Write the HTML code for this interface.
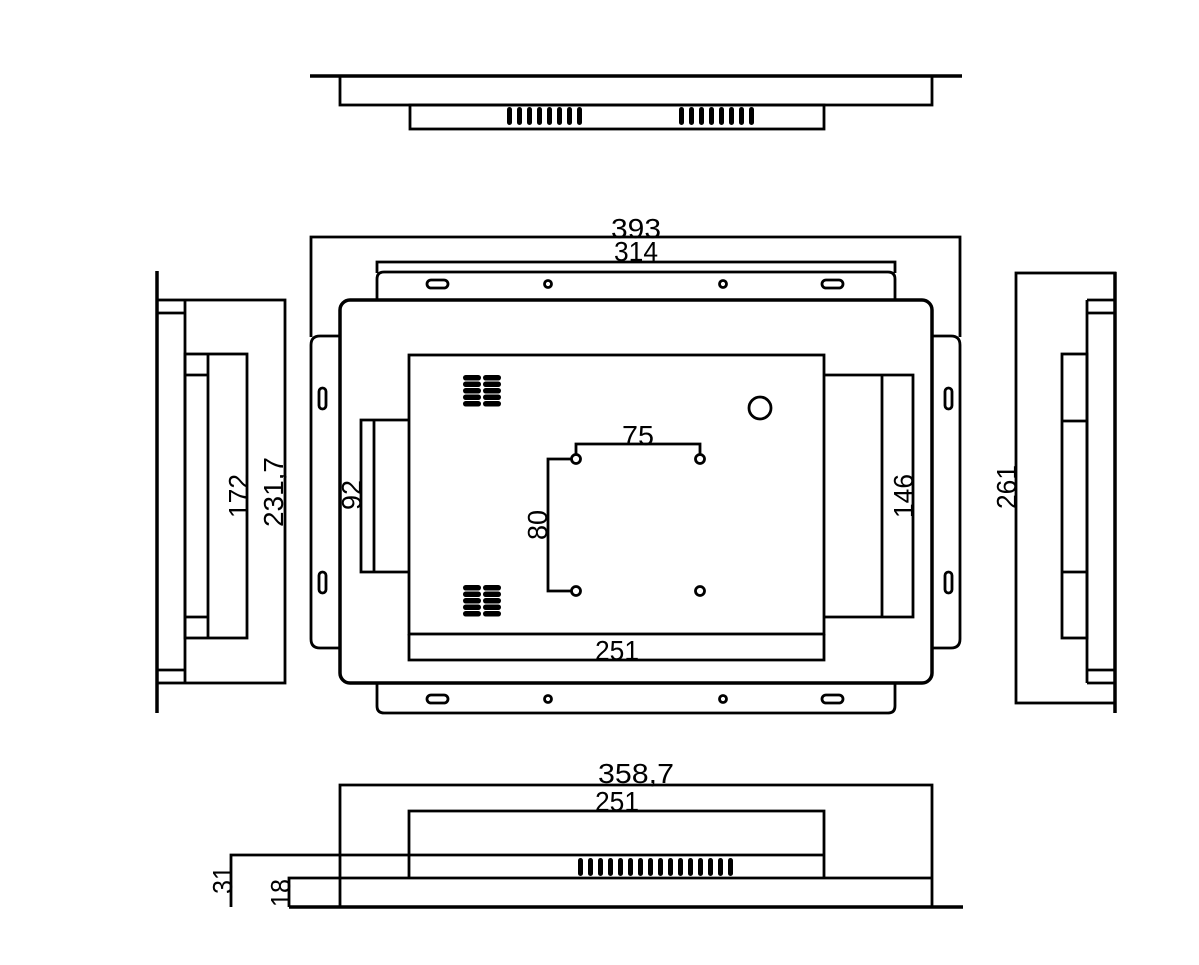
<!DOCTYPE html>
<html><head><meta charset="utf-8"><style>
html,body{margin:0;padding:0;background:#fff;}
svg{display:block;}
text{font-family:"Liberation Sans",sans-serif;font-size:28px;fill:#000;}
</style></head><body>
<svg width="1199" height="965" viewBox="0 0 1199 965" xmlns="http://www.w3.org/2000/svg">
<g fill="none" stroke="#000" stroke-width="2.8">
<line x1="310" y1="76" x2="962" y2="76" stroke-width="3.5"/>
<rect x="340" y="76" width="592" height="29"/>
<rect x="410" y="105" width="414" height="24"/>

<polyline points="311,337 311,237 960,237 960,337"/>
<polyline points="377,273 377,262 895,262 895,273"/>
<path d="M377,301 V279 Q377,272 384,272 H888 Q895,272 895,279 V301"/>
<path d="M377,683 V706 Q377,713 384,713 H888 Q895,713 895,706 V683"/>
<path d="M340,336 H320 Q311,336 311,345 V639 Q311,648 320,648 H340"/>
<path d="M932,336 H951 Q960,336 960,345 V639 Q960,648 951,648 H932"/>
<rect x="340" y="300" width="592" height="383" rx="10" stroke-width="3.5"/>
<rect x="409" y="355" width="415" height="279"/>
<polyline points="409,634 409,660 824,660 824,634"/>
<polyline points="409,420 361,420 361,572 409,572"/>
<line x1="374" y1="420" x2="374" y2="572"/>
<polyline points="824,375 913,375 913,617 824,617"/>
<line x1="882" y1="375" x2="882" y2="617"/>
<circle cx="760" cy="408" r="11"/>
<circle cx="576" cy="459" r="4.5"/>
<circle cx="700" cy="459" r="4.5"/>
<circle cx="576" cy="591" r="4.5"/>
<circle cx="700" cy="591" r="4.5"/>
<polyline points="576,454 576,444 700,444 700,454"/>
<polyline points="572,459 548,459 548,591 572,591"/>
<rect x="427" y="280" width="21" height="8" rx="4"/>
<rect x="822" y="280" width="21" height="8" rx="4"/>
<circle cx="548" cy="284" r="3.5"/>
<circle cx="723" cy="284" r="3.5"/>
<rect x="427" y="695" width="21" height="8" rx="4"/>
<rect x="822" y="695" width="21" height="8" rx="4"/>
<circle cx="548" cy="699" r="3.5"/>
<circle cx="723" cy="699" r="3.5"/>
<rect x="319" y="388" width="7" height="21" rx="3.5"/>
<rect x="319" y="572" width="7" height="21" rx="3.5"/>
<rect x="945" y="388" width="7" height="21" rx="3.5"/>
<rect x="945" y="572" width="7" height="21" rx="3.5"/>

<line x1="157" y1="271" x2="157" y2="713" stroke-width="3.5"/>
<rect x="157" y="300" width="128" height="383"/>
<line x1="185" y1="300" x2="185" y2="683"/>
<line x1="157" y1="313" x2="185" y2="313"/>
<line x1="157" y1="670" x2="185" y2="670"/>
<rect x="185" y="354" width="62" height="284"/>
<line x1="208" y1="354" x2="208" y2="638"/>
<line x1="185" y1="375" x2="208" y2="375"/>
<line x1="185" y1="617" x2="208" y2="617"/>

<rect x="1016" y="273" width="99" height="430"/>
<line x1="1115" y1="272" x2="1115" y2="713" stroke-width="3.5"/>
<line x1="1087" y1="300" x2="1087" y2="683"/>
<line x1="1087" y1="300" x2="1115" y2="300"/>
<line x1="1087" y1="313" x2="1115" y2="313"/>
<line x1="1087" y1="670" x2="1115" y2="670"/>
<line x1="1087" y1="683" x2="1115" y2="683"/>
<rect x="1062" y="354" width="25" height="284"/>
<line x1="1062" y1="421" x2="1087" y2="421"/>
<line x1="1062" y1="572" x2="1087" y2="572"/>

<polyline points="340,907 340,785 932,785 932,907"/>
<polyline points="409,878 409,811 824,811 824,878"/>
<polyline points="231,907 231,855 824,855"/>
<polyline points="289,907 289,878 932,878"/>
<line x1="289" y1="907" x2="963" y2="907" stroke-width="3.5"/>
</g>

<g fill="#000">
<rect x="507" y="107" width="5" height="18" rx="2.5"/><rect x="517" y="107" width="5" height="18" rx="2.5"/><rect x="527" y="107" width="5" height="18" rx="2.5"/><rect x="537" y="107" width="5" height="18" rx="2.5"/><rect x="547" y="107" width="5" height="18" rx="2.5"/><rect x="557" y="107" width="5" height="18" rx="2.5"/><rect x="567" y="107" width="5" height="18" rx="2.5"/><rect x="577" y="107" width="5" height="18" rx="2.5"/>
<rect x="679" y="107" width="5" height="18" rx="2.5"/><rect x="689" y="107" width="5" height="18" rx="2.5"/><rect x="699" y="107" width="5" height="18" rx="2.5"/><rect x="709" y="107" width="5" height="18" rx="2.5"/><rect x="719" y="107" width="5" height="18" rx="2.5"/><rect x="729" y="107" width="5" height="18" rx="2.5"/><rect x="739" y="107" width="5" height="18" rx="2.5"/><rect x="749" y="107" width="5" height="18" rx="2.5"/>
<rect x="578" y="858" width="5" height="18" rx="2.5"/><rect x="588" y="858" width="5" height="18" rx="2.5"/><rect x="598" y="858" width="5" height="18" rx="2.5"/><rect x="608" y="858" width="5" height="18" rx="2.5"/><rect x="618" y="858" width="5" height="18" rx="2.5"/><rect x="628" y="858" width="5" height="18" rx="2.5"/><rect x="638" y="858" width="5" height="18" rx="2.5"/><rect x="648" y="858" width="5" height="18" rx="2.5"/><rect x="658" y="858" width="5" height="18" rx="2.5"/><rect x="668" y="858" width="5" height="18" rx="2.5"/><rect x="678" y="858" width="5" height="18" rx="2.5"/><rect x="688" y="858" width="5" height="18" rx="2.5"/><rect x="698" y="858" width="5" height="18" rx="2.5"/><rect x="708" y="858" width="5" height="18" rx="2.5"/><rect x="718" y="858" width="5" height="18" rx="2.5"/><rect x="728" y="858" width="5" height="18" rx="2.5"/>
<rect x="463" y="375" width="18" height="5.5" rx="2.7"/><rect x="463" y="381.5" width="18" height="5.5" rx="2.7"/><rect x="463" y="388" width="18" height="5.5" rx="2.7"/><rect x="463" y="394.5" width="18" height="5.5" rx="2.7"/><rect x="463" y="401" width="18" height="5.5" rx="2.7"/>
<rect x="483" y="375" width="18" height="5.5" rx="2.7"/><rect x="483" y="381.5" width="18" height="5.5" rx="2.7"/><rect x="483" y="388" width="18" height="5.5" rx="2.7"/><rect x="483" y="394.5" width="18" height="5.5" rx="2.7"/><rect x="483" y="401" width="18" height="5.5" rx="2.7"/>
<rect x="463" y="585" width="18" height="5.5" rx="2.7"/><rect x="463" y="591.5" width="18" height="5.5" rx="2.7"/><rect x="463" y="598" width="18" height="5.5" rx="2.7"/><rect x="463" y="604.5" width="18" height="5.5" rx="2.7"/><rect x="463" y="611" width="18" height="5.5" rx="2.7"/>
<rect x="483" y="585" width="18" height="5.5" rx="2.7"/><rect x="483" y="591.5" width="18" height="5.5" rx="2.7"/><rect x="483" y="598" width="18" height="5.5" rx="2.7"/><rect x="483" y="604.5" width="18" height="5.5" rx="2.7"/><rect x="483" y="611" width="18" height="5.5" rx="2.7"/>
</g>

<text x="636" y="238" text-anchor="middle" textLength="50" lengthAdjust="spacingAndGlyphs">393</text>
<text x="636" y="261" text-anchor="middle" textLength="44" lengthAdjust="spacingAndGlyphs">314</text>
<text x="638" y="445" text-anchor="middle" textLength="32" lengthAdjust="spacingAndGlyphs">75</text>
<text x="617" y="660" text-anchor="middle" textLength="44" lengthAdjust="spacingAndGlyphs">251</text>
<text x="636" y="783" text-anchor="middle" textLength="76" lengthAdjust="spacingAndGlyphs">358,7</text>
<text x="617" y="811" text-anchor="middle" textLength="44" lengthAdjust="spacingAndGlyphs">251</text>
<text transform="translate(248,496) rotate(-90)" text-anchor="middle" textLength="44" lengthAdjust="spacingAndGlyphs">172</text>
<text transform="translate(283,492) rotate(-90)" text-anchor="middle" textLength="70" lengthAdjust="spacingAndGlyphs">231,7</text>
<text transform="translate(361,495) rotate(-90)" text-anchor="middle" textLength="30" lengthAdjust="spacingAndGlyphs">92</text>
<text transform="translate(547,525) rotate(-90)" text-anchor="middle" textLength="30" lengthAdjust="spacingAndGlyphs">80</text>
<text transform="translate(913,496) rotate(-90)" text-anchor="middle" textLength="44" lengthAdjust="spacingAndGlyphs">146</text>
<text transform="translate(1016,487) rotate(-90)" text-anchor="middle" textLength="44" lengthAdjust="spacingAndGlyphs">261</text>
<text transform="translate(232,880) rotate(-90)" text-anchor="middle" textLength="28" lengthAdjust="spacingAndGlyphs">31</text>
<text transform="translate(290,893) rotate(-90)" text-anchor="middle" textLength="28" lengthAdjust="spacingAndGlyphs">18</text>
</svg>
</body></html>
